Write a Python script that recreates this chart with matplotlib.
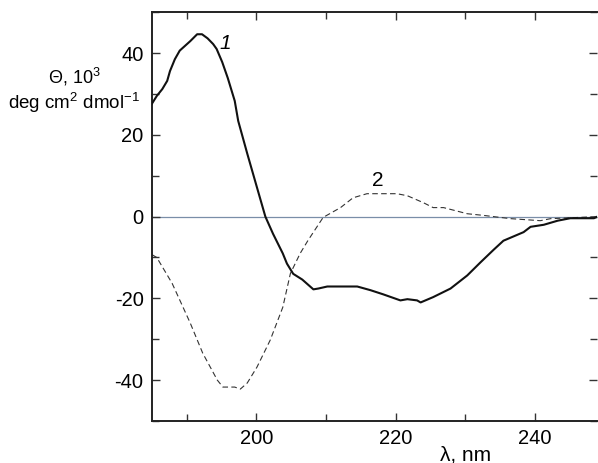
import numpy as np
import matplotlib
matplotlib.use("Agg")
from matplotlib import pyplot as plt
from matplotlib.ticker import MultipleLocator

plt.rcParams["font.family"] = ["Liberation Sans", "DejaVu Sans"]
plt.rcParams["mathtext.fontset"] = "custom"
plt.rcParams["mathtext.rm"] = "Liberation Sans"
plt.rcParams["mathtext.it"] = "Liberation Sans:italic"
plt.rcParams["axes.unicode_minus"] = False

# curve 1 (solid)
wl1 = [185.0, 185.7, 186.5, 187.2, 187.6, 188.3, 189.0, 190.5, 191.5, 192.2,
       193.0, 193.8, 194.3, 195.1, 195.9, 196.9, 197.4, 198.7, 200.1, 201.3,
       202.4, 203.8, 204.4, 205.3, 206.6, 208.2, 208.9, 210.2, 214.5, 216.4,
       218.2, 220.7, 221.7, 223.1, 223.6, 225.4, 227.9, 230.3, 232.2, 234.1,
       235.5, 238.4, 239.4, 241.3, 243.3, 245.1, 248.5, 249.0]
th1 = [27.6, 29.5, 31.2, 33.2, 35.6, 38.5, 40.6, 42.9, 44.6, 44.6,
       43.6, 42.2, 41.0, 37.8, 33.9, 28.3, 23.4, 15.4, 7.1, 0.0,
       -4.2, -9.0, -11.5, -14.0, -15.4, -17.8, -17.6, -17.1, -17.1, -18.0,
       -19.0, -20.5, -20.2, -20.5, -21.0, -19.7, -17.6, -14.4, -11.2, -8.1,
       -5.9, -3.8, -2.5, -2.0, -1.0, -0.4, -0.4, 0.0]

# curve 2 (dashed)
wl2 = [185.0, 185.7, 187.9, 190.5, 192.3, 194.4, 195.2, 196.9, 197.7, 198.7,
       200.1, 202.0, 203.8, 204.9, 206.3, 207.4, 209.6, 212.1, 213.9, 215.9,
       218.2, 220.2, 221.7, 224.0, 225.4, 226.9, 230.3, 232.6, 236.5, 240.8,
       242.3, 245.1, 249.0]
th2 = [-9.3, -10.0, -16.3, -26.0, -33.4, -40.0, -41.7, -41.7, -42.2, -40.7,
       -36.8, -30.2, -22.2, -13.9, -9.0, -5.9, -0.2, 2.2, 4.6, 5.6,
       5.6, 5.6, 5.1, 3.4, 2.2, 2.2, 0.7, 0.3, -0.5, -1.0,
       -0.5, -0.3, 0.0]

fig = plt.figure(figsize=(5.98, 4.63), dpi=100)
ax = fig.add_axes([0.254, 0.0907, 0.745, 0.883])

ax.axhline(0, color="#7a8ea8", lw=0.9, zorder=1)
ax.plot(wl2, th2, color="#333333", lw=0.8, dashes=(5, 3), zorder=2)
ax.plot(wl1, th1, color="#111111", lw=1.5, zorder=3)

ax.set_xlim(185, 249)
ax.set_ylim(-50, 50)
ax.xaxis.set_major_locator(MultipleLocator(20))
ax.xaxis.set_minor_locator(MultipleLocator(10))
ax.yaxis.set_major_locator(MultipleLocator(20))
ax.yaxis.set_minor_locator(MultipleLocator(10))
ax.tick_params(which="both", direction="in", top=True, right=True,
               color="#333333", width=1.0)
ax.tick_params(which="major", length=6, labelsize=14.5, pad=6)
ax.tick_params(which="minor", length=5)
for s in ["left", "bottom", "top"]:
    ax.spines[s].set_linewidth(1.4)
    ax.spines[s].set_color("#222222")
ax.spines["right"].set_visible(False)

ax.text(195.6, 42.4, "1", fontsize=15, style="italic", ha="center", va="center")
ax.text(217.4, 8.8, "2", fontsize=15, ha="center", va="center")

fig.text(0.124, 1 - 77 / 463, r"$\Theta$, 10$^3$", fontsize=13,
         ha="center", va="center")
fig.text(0.124, 1 - 103 / 463, r"deg cm$^2$ dmol$^{-1}$", fontsize=13.5,
         ha="center", va="center")
fig.text(466 / 598, 1 - 455 / 463, "λ, nm", fontsize=15, ha="center",
         va="center")

fig.savefig("out.png", dpi=100)
